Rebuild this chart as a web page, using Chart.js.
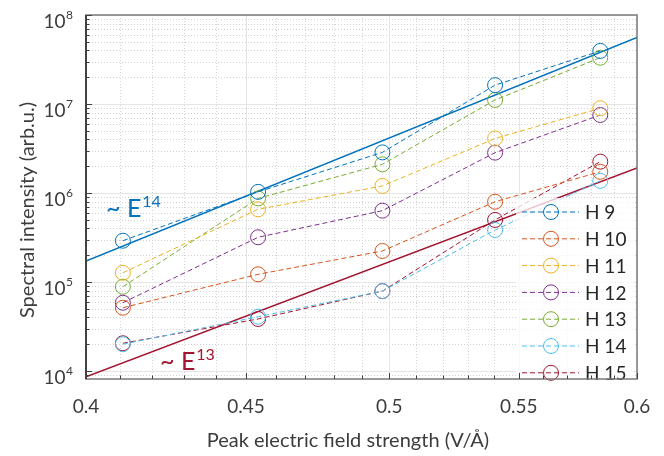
<!DOCTYPE html>
<html>
<head>
<meta charset="utf-8">
<script src="https://cdn.jsdelivr.net/npm/chart.js@4.4.1/dist/chart.umd.min.js"></script>
<style>
  html, body { margin: 0; padding: 0; background: #fff; }
  #chart { display: block; }
</style>
</head>
<body>
<canvas id="chart" width="664" height="456"></canvas>
<script>
// peak field strength of each measurement (V/Å)
const fieldStrength = [0.411, 0.454, 0.4975, 0.5405, 0.584];

const harmonicLabels = ['H 9', 'H 10', 'H 11', 'H 12', 'H 13', 'H 14', 'H 15'];
const h9  = [2.91e5, 1.03e6, 2.86e6, 1.63e7, 3.95e7];
const h10 = [5.14e4, 1.22e5, 2.23e5, 7.98e5, 1.73e6];
const h11 = [1.27e5, 6.56e5, 1.20e6, 4.10e6, 8.96e6];
const h12 = [5.85e4, 3.18e5, 6.33e5, 2.84e6, 7.52e6];
const h13 = [8.85e4, 8.70e5, 2.10e6, 1.11e7, 3.31e7];
const h14 = [2.00e4, 4.07e4, 7.90e4, 3.84e5, 1.37e6];
const h15 = [2.05e4, 3.84e4, 7.90e4, 4.98e5, 2.25e6];
const harmonicSeries = [h9, h10, h11, h12, h13, h14, h15];
const harmonicColors = ['#0072BD', '#D95319', '#EDB120', '#7E2F8E', '#77AC30', '#4DBEEE', '#A2142F'];

// power-law guide lines, end points
const guideX = [0.4, 0.6];
const guideE14 = [1.72e5, 5.6e7];
const guideE13 = [8.6e3, 1.91e6];

const xTickValues = [0.4, 0.45, 0.5, 0.55, 0.6];
const xTickLabels = ['0.4', '0.45', '0.5', '0.55', '0.6'];
const yTickExponents = [4, 5, 6, 7, 8];

const FONT = 'Lato, "Noto Sans", sans-serif';
const TEXT = '#3c3c3c';

const toPoints = (xs, ys) => xs.map((x, i) => ({ x: x, y: ys[i] }));

const datasets = harmonicSeries.map((vals, i) => ({
    label: harmonicLabels[i],
    data: toPoints(fieldStrength, vals),
    borderColor: harmonicColors[i],
    borderWidth: 1,
    borderDash: [5, 3],
    pointStyle: 'circle',
    pointRadius: 7.5,
    pointBorderWidth: 1,
    pointBorderColor: harmonicColors[i],
    pointBackgroundColor: 'rgba(0,0,0,0)',
    tension: 0
}));

datasets.push({
    label: 'E14',
    data: toPoints(guideX, guideE14),
    borderColor: '#0072BD',
    borderWidth: 1.5,
    pointRadius: 0
});
datasets.push({
    label: 'E13',
    data: toPoints(guideX, guideE13),
    borderColor: '#A2142F',
    borderWidth: 1.5,
    pointRadius: 0
});

function minorXValues() {
    const out = [];
    for (let k = 41; k < 60; k++) {
        if (k % 5 !== 0) out.push(k / 100);
    }
    return out;
}

function yValues(minor) {
    const out = [];
    for (let e = 3; e <= 8; e++) {
        for (let k = 1; k <= 9; k++) {
            const isMajor = k === 1;
            if (isMajor !== !minor) continue;
            const v = k * Math.pow(10, e);
            if (v >= 8130 && v <= 1e8) out.push(v);
        }
    }
    return out;
}

const gridPlugin = {
    id: 'grid',
    beforeDatasetsDraw(chart) {
        const { ctx, chartArea: a, scales: { x, y } } = chart;
        ctx.save();
        ctx.lineWidth = 1;
        // minor dotted grid
        ctx.strokeStyle = '#d2d2d2';
        ctx.setLineDash([1, 2]);
        ctx.beginPath();
        minorXValues().forEach(v => {
            const px = Math.round(x.getPixelForValue(v)) + 0.5;
            ctx.moveTo(px, a.top); ctx.lineTo(px, a.bottom);
        });
        yValues(true).forEach(v => {
            const py = Math.round(y.getPixelForValue(v)) + 0.5;
            ctx.moveTo(a.left, py); ctx.lineTo(a.right, py);
        });
        ctx.stroke();
        // major solid grid
        ctx.setLineDash([]);
        ctx.strokeStyle = '#e6e6e6';
        ctx.beginPath();
        xTickValues.forEach(v => {
            const px = Math.round(x.getPixelForValue(v)) + 0.5;
            ctx.moveTo(px, a.top); ctx.lineTo(px, a.bottom);
        });
        yValues(false).forEach(v => {
            const py = Math.round(y.getPixelForValue(v)) + 0.5;
            ctx.moveTo(a.left, py); ctx.lineTo(a.right, py);
        });
        ctx.stroke();
        ctx.restore();
    },
    afterDatasetsDraw(chart) {
        const { ctx, chartArea: a, scales: { x, y } } = chart;
        ctx.save();

        // legend, semi transparent box
        const legX = 516, legTop = 198, rowH = 26.8;
        ctx.fillStyle = 'rgba(255,255,255,0.75)';
        ctx.fillRect(legX, legTop, 118, a.bottom - legTop - 1);
        harmonicLabels.forEach((lab, i) => {
            const ry = 212 + i * rowH;
            ctx.strokeStyle = harmonicColors[i];
            ctx.lineWidth = 1;
            ctx.setLineDash([5, 3]);
            ctx.beginPath();
            ctx.moveTo(522, ry); ctx.lineTo(579, ry);
            ctx.stroke();
            ctx.setLineDash([]);
            ctx.beginPath();
            ctx.arc(551, ry, 7.5, 0, Math.PI * 2);
            ctx.stroke();
            ctx.fillStyle = '#262626';
            ctx.font = '19px ' + FONT;
            ctx.textAlign = 'left';
            ctx.textBaseline = 'middle';
            ctx.fillText(lab, 585, ry + 1);
        });

        // power-law annotations
        const powerLabel = (x0, base, exp, color) => {
            ctx.fillStyle = color;
            ctx.textAlign = 'left';
            ctx.textBaseline = 'alphabetic';
            ctx.font = '25px ' + FONT;
            ctx.fillText('~ E', x0, base);
            const w = ctx.measureText('~ E').width;
            ctx.font = '16px ' + FONT;
            ctx.fillText(exp, x0 + w + 1, base - 10);
        };
        powerLabel(106, 217, '14', '#0072BD');
        powerLabel(160, 370, '13', '#A2142F');

        // axes box
        ctx.setLineDash([]);
        ctx.lineWidth = 1.5;
        ctx.strokeStyle = '#7a7a7a';
        ctx.strokeRect(a.left, a.top, a.right - a.left, a.bottom - a.top);
        ctx.strokeStyle = '#262626';
        ctx.beginPath();
        ctx.moveTo(a.left, a.top); ctx.lineTo(a.left, a.bottom);
        ctx.stroke();

        // inward tick marks
        ctx.lineWidth = 1;
        ctx.strokeStyle = '#404040';
        ctx.beginPath();
        xTickValues.forEach(v => {
            const px = Math.round(x.getPixelForValue(v)) + 0.5;
            ctx.moveTo(px, a.bottom); ctx.lineTo(px, a.bottom - 6);
        });
        minorXValues().forEach(v => {
            const px = Math.round(x.getPixelForValue(v)) + 0.5;
            ctx.moveTo(px, a.bottom); ctx.lineTo(px, a.bottom - 3.5);
        });
        yValues(false).forEach(v => {
            const py = Math.round(y.getPixelForValue(v)) + 0.5;
            ctx.moveTo(a.left, py); ctx.lineTo(a.left + 6, py);
        });
        yValues(true).forEach(v => {
            const py = Math.round(y.getPixelForValue(v)) + 0.5;
            ctx.moveTo(a.left, py); ctx.lineTo(a.left + 3.5, py);
        });
        ctx.stroke();

        // tick labels
        ctx.fillStyle = TEXT;
        ctx.font = '19px ' + FONT;
        ctx.textAlign = 'center';
        ctx.textBaseline = 'alphabetic';
        xTickValues.forEach((v, i) => {
            ctx.fillText(xTickLabels[i], x.getPixelForValue(v), 413);
        });
        yTickExponents.forEach(e => {
            const py = y.getPixelForValue(Math.pow(10, e));
            ctx.font = '12px ' + FONT;
            ctx.textAlign = 'right';
            ctx.fillText(String(e), 73, py + 4);
            const ew = ctx.measureText(String(e)).width;
            ctx.font = '19px ' + FONT;
            ctx.fillText('10', 73 - ew - 0.5, py + 13);
        });

        // axis titles
        ctx.font = '20px ' + FONT;
        ctx.textAlign = 'center';
        ctx.fillText('Peak electric field strength (V/Å)', 348, 447);
        ctx.translate(28, 210);
        ctx.rotate(-Math.PI / 2);
        ctx.textBaseline = 'middle';
        ctx.fillText('Spectral intensity (arb.u.)', 0, 0);
        ctx.restore();
    }
};

new Chart(document.getElementById('chart').getContext('2d'), {
    type: 'line',
    data: { datasets: datasets },
    options: {
        responsive: false,
        animation: false,
        layout: { padding: { left: 86, right: 27, top: 15, bottom: 77 } },
        plugins: {
            legend: { display: false },
            tooltip: { enabled: false }
        },
        scales: {
            x: { type: 'logarithmic', min: 0.4, max: 0.6, display: false },
            y: { type: 'logarithmic', min: 8130, max: 1e8, display: false }
        }
    },
    plugins: [gridPlugin]
});
</script>
</body>
</html>
